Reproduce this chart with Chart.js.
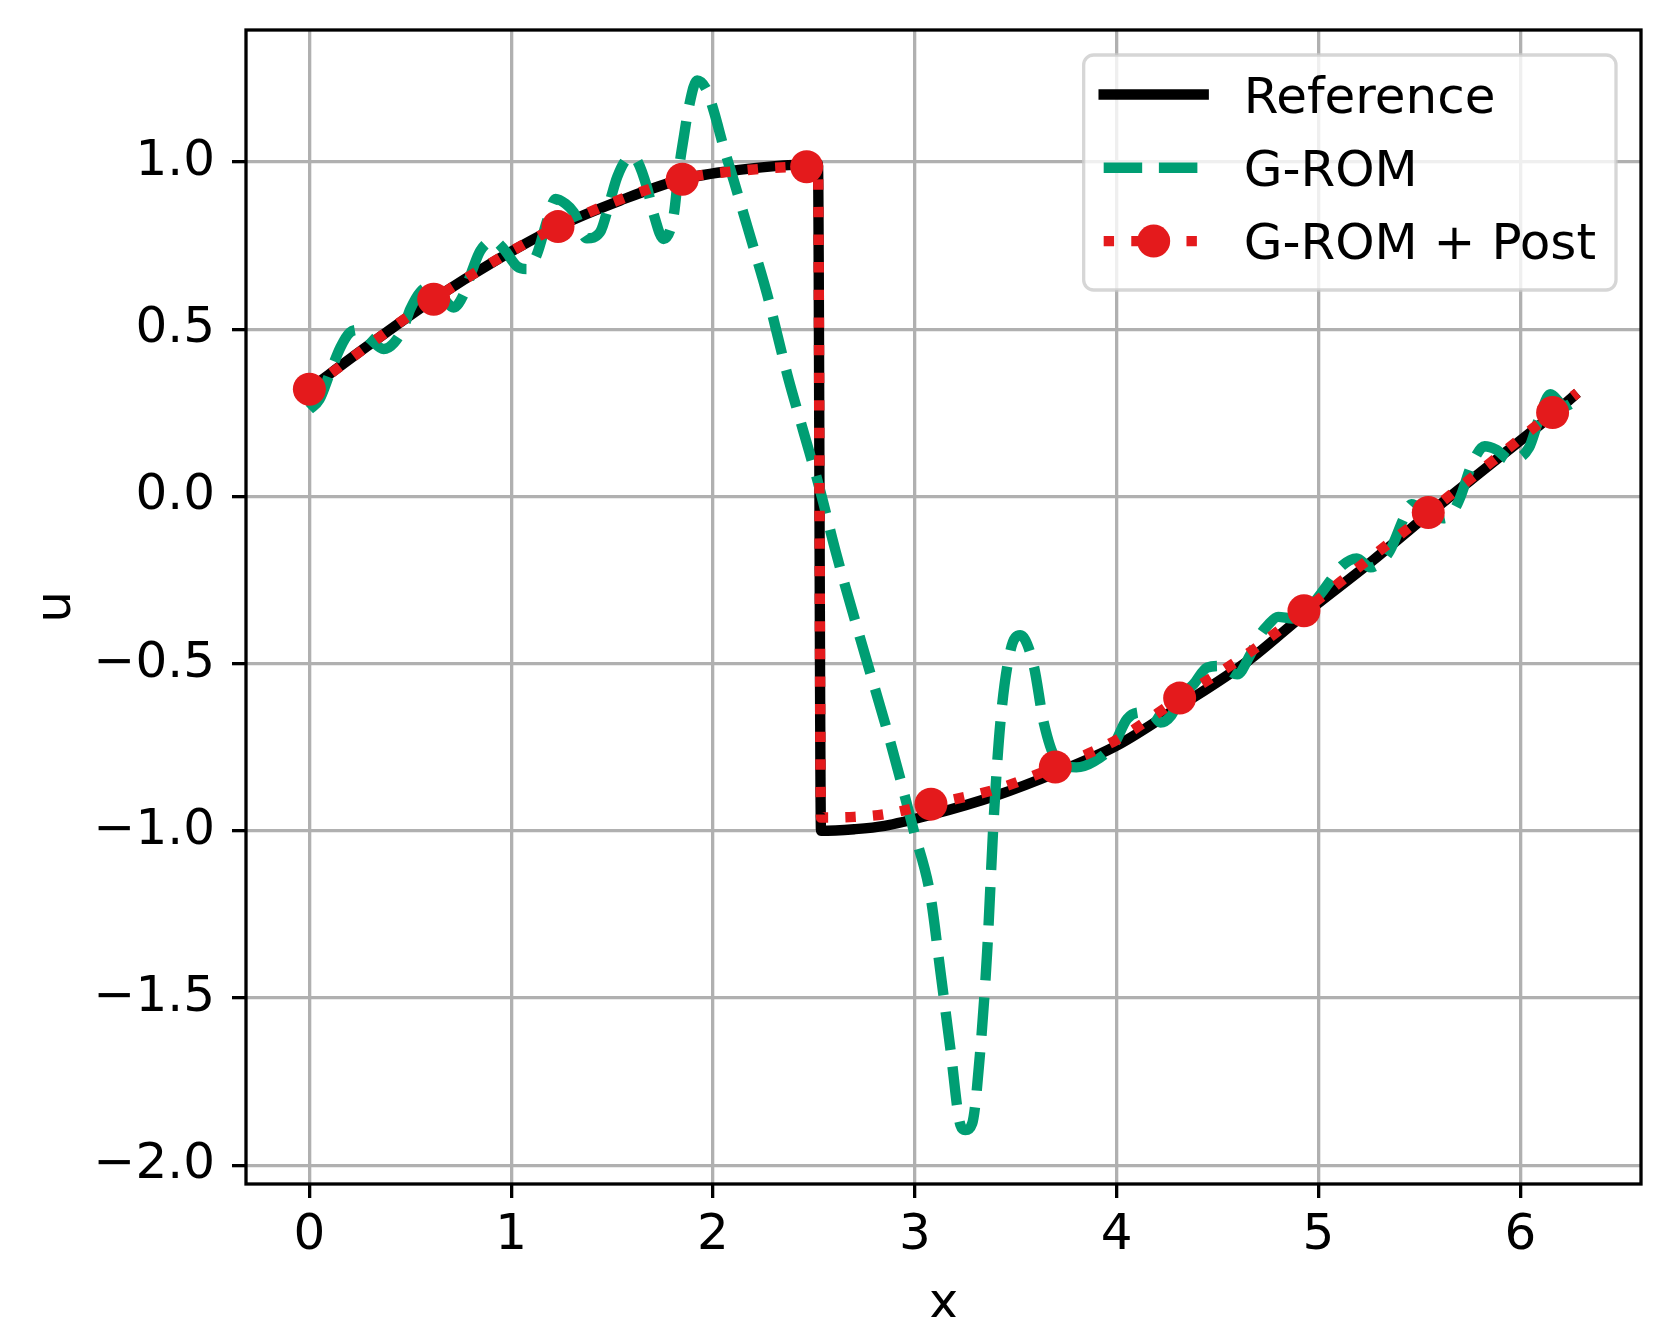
<!DOCTYPE html>
<html>
<head>
<meta charset="utf-8">
<script src="https://cdn.jsdelivr.net/npm/chart.js@4.4.0/dist/chart.umd.min.js"></script>
<style>
  html, body { margin: 0; padding: 0; background: #fff; }
  #wrap { width: 1671px; height: 1317px; }
</style>
</head>
<body>
<div id="wrap"><canvas id="chart" width="1671" height="1317"></canvas></div>
<script>
// values
const refX = [0.0, 0.3, 0.616, 0.93, 1.232, 1.54, 1.849, 2.15, 2.35, 2.465, 2.52,
  2.535, 2.7, 2.85, 3.08, 3.4, 3.7, 4.0, 4.3, 4.65, 4.93, 5.26, 5.54, 5.85, 6.16, 6.283];
const refU = [0.321, 0.455, 0.59, 0.708, 0.807, 0.885, 0.949, 0.978, 0.99, 0.994, 0.995,
  -1.0, -0.995, -0.985, -0.952, -0.895, -0.826, -0.745, -0.632, -0.492, -0.352, -0.196, -0.055, 0.095, 0.245, 0.31];

const gromX = [0.0, 0.05, 0.1, 0.154, 0.2, 0.245, 0.3, 0.368, 0.42, 0.467, 0.5, 0.55, 0.6, 0.66,
  0.715, 0.765, 0.806, 0.847, 0.913, 0.963, 1.029, 1.079, 1.128, 1.178, 1.22, 1.27, 1.31, 1.375,
  1.44, 1.49, 1.525, 1.574, 1.6, 1.624, 1.673, 1.706, 1.755, 1.806, 1.83, 1.855, 1.88, 1.921,
  1.97, 2.003, 2.053, 2.103, 2.152, 2.201, 2.268, 2.37, 2.45, 2.53, 2.607, 2.73, 2.879, 2.995,
  3.077, 3.127, 3.176, 3.226, 3.25, 3.284, 3.325, 3.358, 3.391, 3.424, 3.474, 3.523, 3.589,
  3.639, 3.705, 3.8, 3.887, 3.986, 4.052, 4.118, 4.184, 4.217, 4.27, 4.316, 4.382, 4.448, 4.514,
  4.597, 4.663, 4.713, 4.746, 4.8, 4.87, 4.93, 5.01, 5.059, 5.117, 5.19, 5.258, 5.3, 5.353,
  5.424, 5.46, 5.54, 5.62, 5.672, 5.704, 5.76, 5.823, 5.88, 5.95, 6.043, 6.095, 6.149, 6.22, 6.283];
const gromU = [0.26, 0.29, 0.366, 0.446, 0.49, 0.498, 0.472, 0.441, 0.46, 0.506, 0.56, 0.612, 0.628, 0.595,
  0.565, 0.605, 0.675, 0.735, 0.765, 0.74, 0.688, 0.68, 0.725, 0.825, 0.89, 0.875, 0.85, 0.772,
  0.79, 0.885, 0.955, 1.01, 1.015, 1.004, 0.924, 0.844, 0.77, 0.844, 0.974, 1.074, 1.164, 1.244,
  1.214, 1.154, 1.044, 0.944, 0.844, 0.744, 0.605, 0.36, 0.19, 0.02, -0.163, -0.426, -0.735, -1.0,
  -1.193, -1.422, -1.651, -1.88, -1.895, -1.875, -1.651, -1.365, -0.962, -0.675, -0.46, -0.415, -0.506,
  -0.677, -0.79, -0.81, -0.793, -0.741, -0.665, -0.646, -0.656, -0.676, -0.655, -0.601, -0.561, -0.512, -0.507,
  -0.532, -0.472, -0.412, -0.387, -0.36, -0.365, -0.35, -0.292, -0.252, -0.207, -0.185, -0.212, -0.2, -0.163,
  -0.063, -0.023, -0.05, -0.065, -0.04, 0.0, 0.096, 0.15, 0.14, 0.11, 0.146, 0.236, 0.306, 0.27, 0.29];

const postX = [0.0, 0.616, 1.232, 1.848, 2.15, 2.464, 2.52,
  2.535, 2.7, 2.85, 3.08, 3.4, 3.696, 4.0, 4.312, 4.65, 4.928, 5.24, 5.544, 5.85, 6.16, 6.283];
const postU = [0.321, 0.59, 0.807, 0.949, 0.975, 0.986, 0.985,
  -0.96, -0.958, -0.95, -0.92, -0.876, -0.809, -0.728, -0.603, -0.47, -0.342, -0.192, -0.048, 0.1, 0.251, 0.31];

const markX = [0.0, 0.616, 1.232, 1.848, 2.464, 3.08, 3.696, 4.312, 4.928, 5.544, 6.16];
const markU = [0.321, 0.59, 0.807, 0.949, 0.986, -0.92, -0.809, -0.603, -0.342, -0.048, 0.251];

const xTicks = [0, 1, 2, 3, 4, 5, 6];
const yTicks = [-2.0, -1.5, -1.0, -0.5, 0.0, 0.5, 1.0];

const labels = ["Reference", "G-ROM", "G-ROM + Post"];

const BLACK = "#000000";
const GREEN = "#009e73";
const RED = "#e41a1c";
const LW = 10.4;
const FONT = "DejaVu Sans";
const FS = 50;

function points(xs, ys) {
  return xs.map((x, i) => ({ x: x, y: ys[i] }));
}

function fmtY(v) {
  const s = Math.abs(v).toFixed(1);
  return v < 0 ? "\u2212" + s : s;
}

// matplotlib style legend, upper right
function drawLegend(chart) {
  const ctx = chart.ctx;
  const a = chart.chartArea;
  const pad = 0.4 * FS, handleLen = 2 * FS, textPad = 0.8 * FS;
  ctx.save();
  ctx.font = FS + 'px "' + FONT + '"';
  const textW = Math.max(...labels.map((t) => ctx.measureText(t).width));
  const w = pad + handleLen + textPad + textW + pad;
  const h = 235;
  const right = a.right - 0.5 * FS;
  const left = right - w;
  const top = a.top + 0.5 * FS;

  ctx.beginPath();
  ctx.roundRect(left, top, w, h, 0.2 * FS);
  ctx.fillStyle = "rgba(255,255,255,0.8)";
  ctx.fill();
  ctx.lineWidth = 3.3;
  ctx.strokeStyle = "rgba(204,204,204,0.8)";
  ctx.stroke();

  const hx0 = left + pad;
  const hx1 = hx0 + handleLen;
  labels.forEach((label, i) => {
    const y = top + 39.5 + i * 73.3;
    ctx.save();
    ctx.lineWidth = LW;
    ctx.beginPath();
    ctx.moveTo(hx0, y);
    ctx.lineTo(hx1, y);
    if (i === 0) {
      ctx.strokeStyle = BLACK;
      ctx.lineCap = "square";
      ctx.setLineDash([]);
    } else if (i === 1) {
      ctx.strokeStyle = GREEN;
      ctx.lineCap = "butt";
      ctx.setLineDash([38.5, 16.7]);
    } else {
      ctx.strokeStyle = RED;
      ctx.lineCap = "butt";
      ctx.setLineDash([10.4, 17.2]);
    }
    ctx.stroke();
    if (i === 2) {
      ctx.setLineDash([]);
      ctx.beginPath();
      ctx.arc((hx0 + hx1) / 2, y, 16.5, 0, Math.PI * 2);
      ctx.fillStyle = RED;
      ctx.fill();
    }
    ctx.restore();
    ctx.fillStyle = "#000";
    ctx.textBaseline = "alphabetic";
    ctx.textAlign = "left";
    ctx.fillText(label, hx1 + textPad, y + 0.365 * FS);
  });
  ctx.restore();
}

const framePlugin = {
  id: "frame",
  afterDatasetsDraw(chart) {
    const ctx = chart.ctx;
    const a = chart.chartArea;
    ctx.save();
    ctx.strokeStyle = "#000";
    ctx.lineWidth = 3.3;
    ctx.strokeRect(a.left, a.top, a.right - a.left, a.bottom - a.top);
    ctx.restore();
    drawLegend(chart);
  }
};

Chart.defaults.font.family = FONT;
Chart.defaults.color = "#000";

const gridOpts = {
  color: "#b0b0b0",
  lineWidth: 3.3,
  tickColor: "#000",
  tickLength: 14,
  tickWidth: 3.3
};

new Chart(document.getElementById("chart"), {
  type: "line",
  data: {
    datasets: [
      {
        label: labels[0],
        data: points(refX, refU),
        borderColor: BLACK,
        borderWidth: LW,
        borderJoinStyle: "round",
        borderCapStyle: "butt",
        pointRadius: 0,
        cubicInterpolationMode: "monotone",
        order: 4
      },
      {
        label: labels[1],
        data: points(gromX, gromU),
        borderColor: GREEN,
        borderWidth: LW,
        borderDash: [38.5, 16.7],
        borderJoinStyle: "round",
        borderCapStyle: "butt",
        pointRadius: 0,
        cubicInterpolationMode: "monotone",
        order: 3
      },
      {
        label: labels[2],
        data: points(postX, postU),
        borderColor: RED,
        borderWidth: LW,
        borderDash: [10.4, 17.2],
        borderJoinStyle: "round",
        borderCapStyle: "butt",
        pointRadius: 0,
        cubicInterpolationMode: "monotone",
        order: 2
      },
      {
        label: "",
        data: points(markX, markU),
        showLine: false,
        pointRadius: 16.5,
        pointBackgroundColor: RED,
        pointBorderWidth: 0,
        pointBorderColor: RED,
        order: 1
      }
    ]
  },
  options: {
    responsive: false,
    devicePixelRatio: 1,
    animation: false,
    events: [],
    layout: { padding: { top: 30, right: 30, left: 0, bottom: 0 } },
    plugins: { legend: { display: false }, tooltip: { enabled: false } },
    scales: {
      x: {
        type: "linear",
        min: -0.314,
        max: 6.598,
        afterBuildTicks: (s) => { s.ticks = xTicks.map((v) => ({ value: v })); },
        afterFit: (s) => {
          s.height = 133;
          s.paddingLeft = 0;
          s.paddingRight = 0;
        },
        ticks: {
          font: { size: FS },
          color: "#000",
          padding: 8,
          maxRotation: 0,
          autoSkip: false,
          callback: (v) => String(v)
        },
        grid: gridOpts,
        border: { display: false },
        title: {
          display: true,
          text: "x",
          color: "#000",
          font: { size: FS, lineHeight: 1 },
          padding: { top: 0, bottom: -13 }
        }
      },
      y: {
        type: "linear",
        min: -2.056,
        max: 1.395,
        afterBuildTicks: (s) => { s.ticks = yTicks.map((v) => ({ value: v })); },
        afterFit: (s) => {
          s.width = 246;
          s.paddingTop = 0;
          s.paddingBottom = 0;
        },
        ticks: {
          font: { size: FS },
          color: "#000",
          padding: 17,
          autoSkip: false,
          callback: (v) => fmtY(v)
        },
        grid: gridOpts,
        border: { display: false },
        title: {
          display: true,
          text: "u",
          color: "#000",
          font: { size: FS, lineHeight: 1 },
          padding: { top: 32, bottom: 0 }
        }
      }
    }
  },
  plugins: [framePlugin]
});
</script>
</body>
</html>
